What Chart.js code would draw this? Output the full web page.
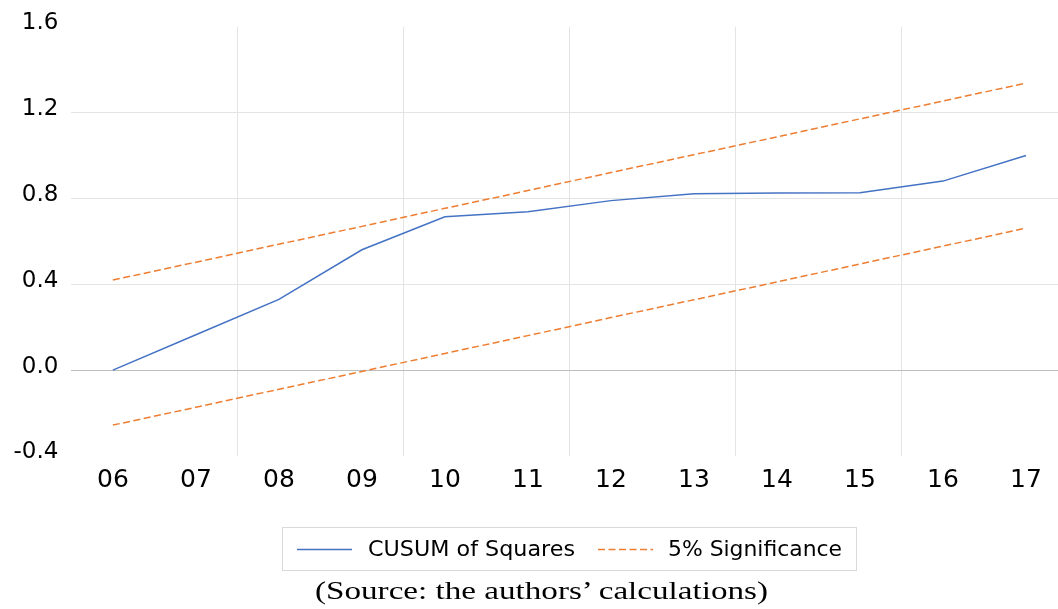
<!DOCTYPE html>
<html>
<head>
<meta charset="utf-8">
<script src="https://cdn.jsdelivr.net/npm/chart.js@4/dist/chart.umd.min.js"></script>
<style>
  html, body { margin: 0; padding: 0; background: #ffffff; overflow: hidden; }
  #wrap { position: relative; width: 1072px; height: 609px; }
  #plot { position: absolute; left: 0; top: 0; width: 1072px; height: 506px; }
  #notes { position: absolute; left: 0; top: 0; }
</style>
</head>
<body>
<div id="wrap">
  <div id="plot"><canvas id="chart"></canvas></div>
  <svg id="notes" width="1072" height="609" xmlns="http://www.w3.org/2000/svg">
    <rect x="282.5" y="527.5" width="574" height="43" fill="#ffffff" stroke="#d9d9d9" stroke-width="1"/>
    <line x1="297" y1="549.5" x2="352" y2="549.5" stroke="#4472C4" stroke-width="1.5"/>
    <text x="368" y="555.5" font-family="DejaVu Sans" font-size="21" fill="#000" textLength="207" lengthAdjust="spacingAndGlyphs">CUSUM of Squares</text>
    <line x1="598" y1="549.5" x2="653" y2="549.5" stroke="#ED7D31" stroke-width="1.5" stroke-dasharray="7 3.5"/>
    <text x="668" y="555.5" font-family="DejaVu Sans" font-size="21" fill="#000" textLength="174" lengthAdjust="spacingAndGlyphs">5% Significance</text>
    <text x="541.5" y="598.5" text-anchor="middle" font-family="Liberation Serif" font-size="26" fill="#000" textLength="453" lengthAdjust="spacingAndGlyphs">(Source: the authors’ calculations)</text>
  </svg>
</div>
<script>
// Sample years (two-digit labels)
const years = ['06', '07', '08', '09', '10', '11', '12', '13', '14', '15', '16', '17'];

// CUSUM of squares statistic
const cusumSq = [0.000, 0.165, 0.330, 0.561, 0.715, 0.738, 0.790, 0.822, 0.826, 0.827, 0.881, 1.000];

// 5% significance bounds
const upper5 = [0.420, 0.503, 0.587, 0.670, 0.754, 0.837, 0.921, 1.004, 1.087, 1.171, 1.254, 1.338];
const lower5 = [-0.256, -0.173, -0.089, -0.006, 0.078, 0.161, 0.245, 0.328, 0.411, 0.495, 0.578, 0.662];

// Value axis ticks
const yTicks = [-0.4, 0.0, 0.4, 0.8, 1.2, 1.6];

const BLUE = '#4472C4';
const ORANGE = '#ED7D31';

new Chart(document.getElementById('chart'), {
  type: 'line',
  data: {
    labels: years,
    datasets: [
      {
        label: '5% Significance',
        data: upper5,
        borderColor: ORANGE,
        borderWidth: 1.5,
        borderDash: [7, 3.5],
        pointRadius: 0,
        fill: false
      },
      {
        label: '5% Significance (lower)',
        data: lower5,
        borderColor: ORANGE,
        borderWidth: 1.5,
        borderDash: [7, 3.5],
        pointRadius: 0,
        fill: false
      },
      {
        label: 'CUSUM of Squares',
        data: cusumSq,
        borderColor: BLUE,
        borderWidth: 1.5,
        pointRadius: 0,
        fill: false
      }
    ]
  },
  options: {
    responsive: true,
    maintainAspectRatio: false,
    animation: false,
    events: [],
    layout: { padding: { top: 22.6, left: 0.5, right: 4.5, bottom: 2 } },
    plugins: {
      legend: { display: false },
      tooltip: { enabled: false },
      title: { display: false }
    },
    scales: {
      x: {
        type: 'category',
        offset: true,
        border: { display: false },
        grid: {
          offset: true,
          drawTicks: false,
          lineWidth: 1,
          color: (ctx) => (ctx.index > 0 && ctx.index % 2 === 0 && ctx.index < years.length) ? '#e4e4e4' : 'rgba(0,0,0,0)'
        },
        ticks: {
          color: '#000',
          padding: 9,
          font: { family: 'DejaVu Sans', size: 25 },
          maxRotation: 0,
          autoSkip: false
        }
      },
      y: {
        min: -0.4,
        max: 1.6,
        border: { display: false },
        afterBuildTicks: (scale) => { scale.ticks = yTicks.map(v => ({ value: v })); },
        grid: {
          drawTicks: false,
          lineWidth: 1,
          color: (ctx) => {
            const v = ctx.tick ? ctx.tick.value : null;
            if (v === null) return 'rgba(0,0,0,0)';
            if (Math.abs(v) < 1e-9) return '#bdbdbd';
            if (Math.abs(v - 1.6) < 1e-9 || Math.abs(v + 0.4) < 1e-9) return 'rgba(0,0,0,0)';
            return '#e4e4e4';
          }
        },
        ticks: {
          color: '#000',
          padding: 13,
          labelOffset: -3.5,
          font: { family: 'DejaVu Sans', size: 23 },
          callback: (v) => Number(v).toFixed(1)
        }
      }
    }
  }
});
</script>
</body>
</html>
